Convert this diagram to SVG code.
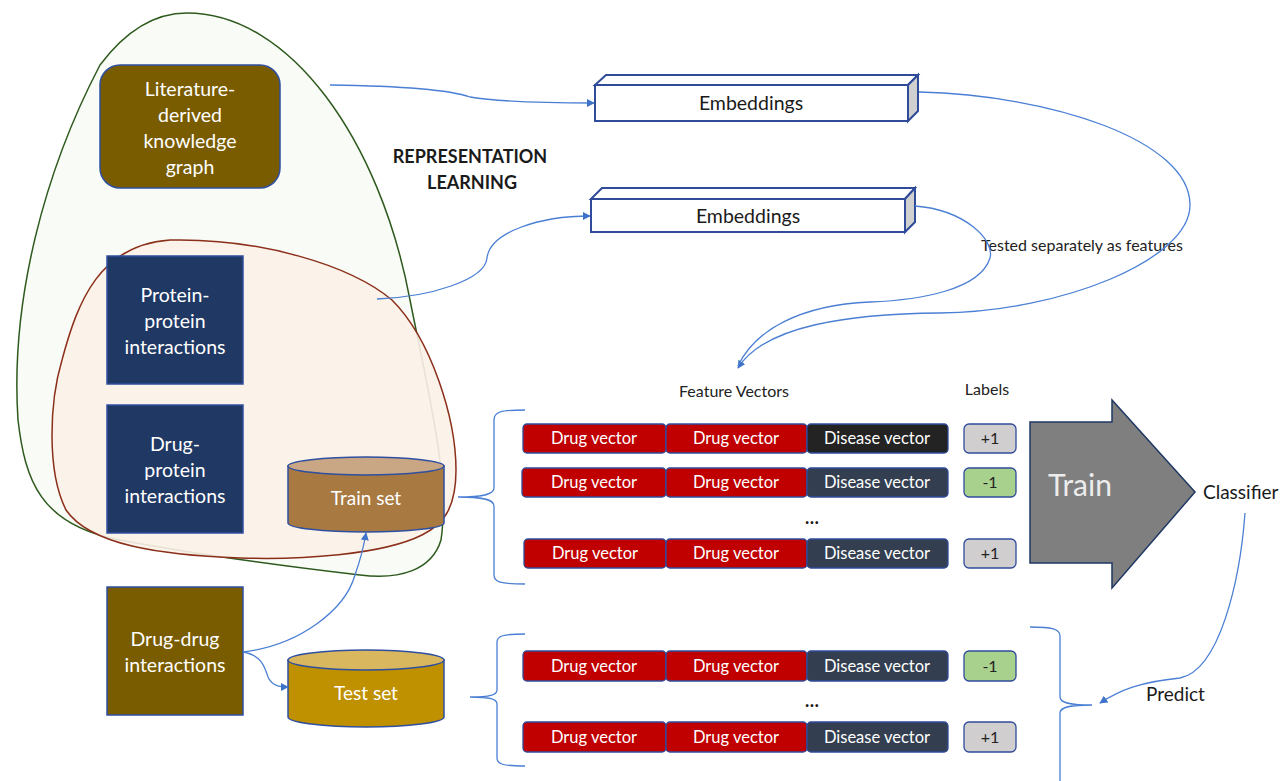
<svg xmlns="http://www.w3.org/2000/svg" width="1282" height="781" viewBox="0 0 1282 781">
<defs>
<style>
text{font-family:Lato,"Open Sans","Liberation Sans",sans-serif}
.w{fill:#ffffff;text-anchor:middle}
.box{font-size:19.5px}
.v{font-size:16.5px;fill:#fff;text-anchor:middle}
.lab{font-size:16px;fill:#222;text-anchor:middle}
.k{fill:#1a1a1a}
.conn{fill:none;stroke:#4a7fd4;stroke-width:1.3}
.drug{fill:#c00000;stroke:#2f4b9a;stroke-width:1.3}
.dis{fill:#333f50;stroke:#2f4b9a;stroke-width:1.3}
.dis1{fill:#232323;stroke:#2f4b9a;stroke-width:1.3}
.pos{fill:#d0cece;stroke:#2f4b9a;stroke-width:1.3}
.neg{fill:#a9d18e;stroke:#2f4b9a;stroke-width:1.3}
.emb{fill:#fff;stroke:#2f4b9a;stroke-width:2}
.side{fill:#d0d0d0;stroke:#2f4b9a;stroke-width:2}
</style>
<marker id="ah" viewBox="0 0 10 10" refX="9" refY="5" markerWidth="8" markerHeight="8" markerUnits="userSpaceOnUse" orient="auto">
<path d="M0,0 L10,5 L0,10 Z" fill="#3f72c9"/>
</marker>
</defs>
<rect width="1282" height="781" fill="#ffffff"/>

<g id="regions">
<path d="M187,13 C 290,13 380,140 410,300 C 430,400 450,480 441,540 C 432,570 400,580 360,575 C 300,568 200,555 120,540 C 40,525 25,480 18,420 C 10,300 45,170 100,65 C 130,25 160,13 187,13 Z" fill="#f9fbf6" stroke="#2e5a1e" stroke-width="1.5"/>
<path d="M170,240 C 260,238 350,265 392,300 C 432,340 456,420 456,470 C 456,510 442,525 422,535 C 382,555 300,560 240,558 C 160,555 90,545 66,510 C 46,470 50,400 62,360 C 78,300 100,245 170,240 Z" fill="#fbf1e8" fill-opacity="0.9" stroke="#8b2f1a" stroke-width="1.5"/>
</g>

<g id="rep-label">
<text x="470" y="163" font-size="18" font-weight="bold" text-anchor="middle" class="k">REPRESENTATION</text>
<text x="472" y="189" font-size="18" font-weight="bold" text-anchor="middle" class="k">LEARNING</text>
</g>

<g id="literature-kg">
<rect x="100" y="65" width="180" height="123" rx="20" fill="#7a5c00" stroke="#2f4fa0" stroke-width="1.5"/>
<text class="w box" x="190" y="96">Literature-</text>
<text class="w box" x="190" y="122">derived</text>
<text class="w box" x="190" y="148">knowledge</text>
<text class="w box" x="190" y="174">graph</text>
</g>

<g id="ppi">
<rect x="107" y="256" width="136" height="128" fill="#1f3864" stroke="#2f4fa0" stroke-width="1.5"/>
<text class="w box" x="175" y="302">Protein-</text>
<text class="w box" x="175" y="328">protein</text>
<text class="w box" x="175" y="354">interactions</text>
</g>

<g id="dpi">
<rect x="107" y="405" width="136" height="128" fill="#1f3864" stroke="#2f4fa0" stroke-width="1.5"/>
<text class="w box" x="175" y="451">Drug-</text>
<text class="w box" x="175" y="477">protein</text>
<text class="w box" x="175" y="503">interactions</text>
</g>

<g id="ddi">
<rect x="107" y="587" width="136" height="128" fill="#7a5c00" stroke="#2f4fa0" stroke-width="1.5"/>
<text class="w box" x="175" y="646">Drug-drug</text>
<text class="w box" x="175" y="672">interactions</text>
</g>

<g id="train-set">
<path d="M288,466 L288,523 A78,9 0 0 0 444,523 L444,466 Z" fill="#a87a42" stroke="#2f4fa0" stroke-width="1.5"/>
<ellipse cx="366" cy="466" rx="78" ry="9" fill="#c9a784" stroke="#2f4fa0" stroke-width="1.5"/>
<text class="w" x="366" y="505" font-size="19">Train set</text>
</g>

<g id="test-set">
<path d="M288,660 L288,717 A78,10 0 0 0 444,717 L444,660 Z" fill="#bf9000" stroke="#2f4fa0" stroke-width="1.5"/>
<ellipse cx="366" cy="660" rx="78" ry="10" fill="#d8b75e" stroke="#2f4fa0" stroke-width="1.5"/>
<text class="w" x="366" y="700" font-size="19">Test set</text>
</g>

<g id="embeddings-1">
<polygon class="emb" points="595,85 606,75 918,75 908,85"/>
<polygon class="side" points="908,85 918,75 918,111 908,121"/>
<rect class="emb" x="595" y="85" width="313" height="36"/>
<text x="751" y="110" font-size="19.5" text-anchor="middle" class="k">Embeddings</text>
</g>

<g id="embeddings-2">
<polygon class="emb" points="591,199 602,188 915,188 905,199"/>
<polygon class="side" points="905,199 915,188 915,222 905,232"/>
<rect class="emb" x="591" y="199" width="314" height="33"/>
<text x="748" y="223" font-size="19.5" text-anchor="middle" class="k">Embeddings</text>
</g>

<g id="labels">
<text class="lab" x="734" y="397" font-size="17">Feature Vectors</text>
<text class="lab" x="987" y="395">Labels</text>
<text class="lab" x="1082" y="251" font-size="16.5">Tested separately as features</text>
<text x="1203" y="499" font-size="19" class="k">Classifier</text>
<text x="1146" y="701" font-size="19" class="k">Predict</text>
</g>

<g id="train-rows">
<rect class="drug" x="523" y="424" width="143" height="29" rx="4"/>
<rect class="drug" x="666" y="424" width="141" height="29" rx="4"/>
<rect class="dis1" x="807" y="424" width="141" height="29" rx="4"/>
<rect class="pos" x="964" y="424" width="52" height="29" rx="5"/>
<text class="v" x="594" y="444">Drug vector</text>
<text class="v" x="736" y="444">Drug vector</text>
<text class="v" x="877" y="444">Disease vector</text>
<text class="lab" x="990" y="444">+1</text>

<rect class="drug" x="522" y="468" width="144" height="29" rx="4"/>
<rect class="drug" x="666" y="468" width="141" height="29" rx="4"/>
<rect class="dis" x="807" y="468" width="141" height="29" rx="4"/>
<rect class="neg" x="964" y="468" width="52" height="29" rx="5"/>
<text class="v" x="594" y="488">Drug vector</text>
<text class="v" x="736" y="488">Drug vector</text>
<text class="v" x="877" y="488">Disease vector</text>
<text class="lab" x="990" y="488">-1</text>

<text x="812" y="524" font-size="18" font-weight="bold" text-anchor="middle" class="k">…</text>

<rect class="drug" x="524" y="539" width="142" height="29" rx="4"/>
<rect class="drug" x="666" y="539" width="141" height="29" rx="4"/>
<rect class="dis" x="807" y="539" width="141" height="29" rx="4"/>
<rect class="pos" x="964" y="539" width="52" height="29" rx="5"/>
<text class="v" x="595" y="559">Drug vector</text>
<text class="v" x="736" y="559">Drug vector</text>
<text class="v" x="877" y="559">Disease vector</text>
<text class="lab" x="990" y="559">+1</text>
</g>

<g id="test-rows">
<rect class="drug" x="523" y="651" width="143" height="30" rx="4"/>
<rect class="drug" x="666" y="651" width="141" height="30" rx="4"/>
<rect class="dis" x="807" y="651" width="141" height="30" rx="4"/>
<rect class="neg" x="964" y="651" width="52" height="30" rx="5"/>
<text class="v" x="594" y="672">Drug vector</text>
<text class="v" x="736" y="672">Drug vector</text>
<text class="v" x="877" y="672">Disease vector</text>
<text class="lab" x="990" y="672">-1</text>

<text x="812" y="707" font-size="18" font-weight="bold" text-anchor="middle" class="k">…</text>

<rect class="drug" x="523" y="722" width="143" height="30" rx="4"/>
<rect class="drug" x="666" y="722" width="141" height="30" rx="4"/>
<rect class="dis" x="807" y="722" width="141" height="30" rx="4"/>
<rect class="pos" x="964" y="722" width="52" height="30" rx="5"/>
<text class="v" x="594" y="743">Drug vector</text>
<text class="v" x="736" y="743">Drug vector</text>
<text class="v" x="877" y="743">Disease vector</text>
<text class="lab" x="990" y="743">+1</text>
</g>

<g id="train-arrow">
<polygon points="1030,422 1112,422 1112,400 1195,492 1112,588 1112,563 1030,563" fill="#7f7f7f" stroke="#203864" stroke-width="1.5"/>
<text x="1048" y="496" font-size="30" fill="#ececec">Train</text>
</g>

<g id="connectors">
<path class="conn" marker-end="url(#ah)" d="M330,85 C 400,86 450,90 470,97 C 500,102 550,103 594,103"/>
<path class="conn" marker-end="url(#ah)" d="M377,299 C 430,297 485,280 487,258 C 490,232 540,216 590,216"/>
<path class="conn" marker-end="url(#ah)" d="M919,92 C 1050,95 1190,140 1190,205 C 1190,260 1060,312 940,313 C 850,314 765,325 738,368"/>
<path class="conn" d="M915,206 C 965,210 995,240 990,258 C 980,290 920,300 870,302 C 800,305 755,330 738,366"/>
<path class="conn" marker-end="url(#ah)" d="M243,652 C 300,645 345,610 355,575 C 362,555 364,545 366,533"/>
<path class="conn" marker-end="url(#ah)" d="M243,652 C 262,655 265,668 268,677 C 272,686 280,687 288,687"/>
<path class="conn" marker-end="url(#ah)" d="M1245,513 C 1240,580 1220,670 1180,678 C 1140,682 1120,690 1100,703"/>
<path class="conn" d="M525,410 C 500,410 494,412 494,420 L494,488 C 494,494 485,497 458,497 C 485,497 494,500 494,506 L494,575 C 494,582 500,584 525,584"/>
<path class="conn" d="M525,634 C 503,634 497,636 497,642 L497,690 C 497,695 490,697 470,697 C 490,697 497,699 497,704 L497,758 C 497,764 503,766 525,766"/>
<path class="conn" d="M1030,627 C 1052,627 1060,629 1060,636 L1060,697 C 1060,703 1070,705 1092,705 C 1070,705 1060,707 1060,713 L1060,781"/>
</g>
</svg>
